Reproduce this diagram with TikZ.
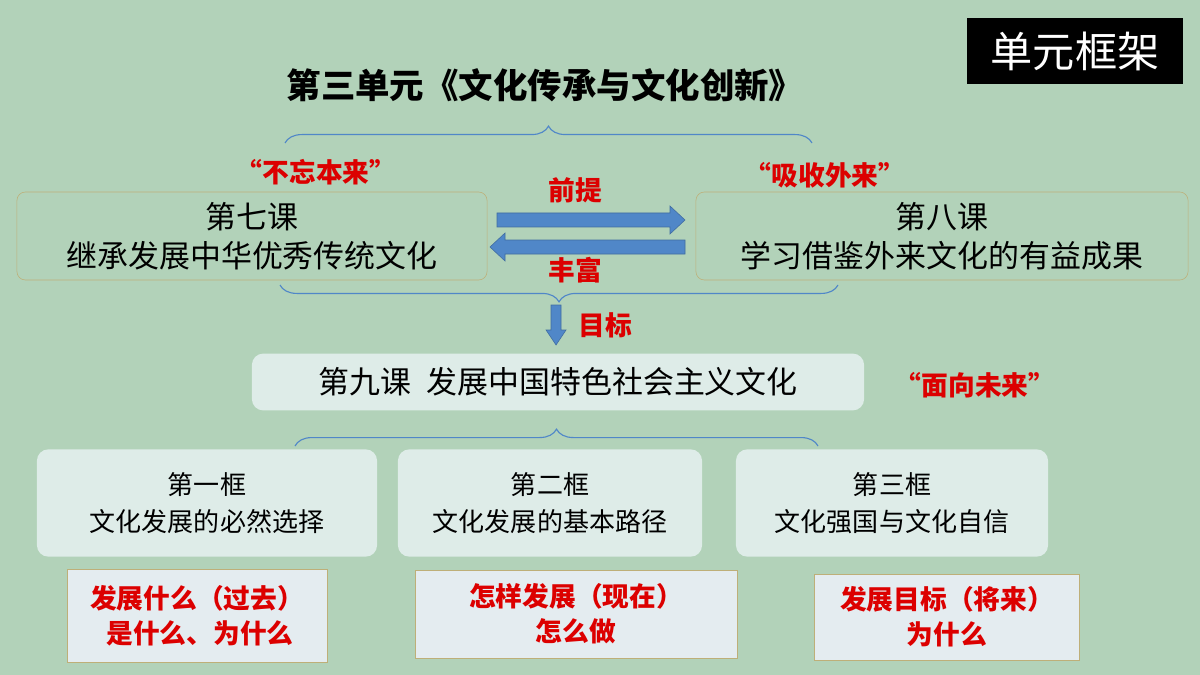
\documentclass[tikz,border=0pt]{standalone}
\usepackage{fontspec}
\setmainfont{Noto Sans CJK SC}
\usetikzlibrary{positioning,decorations.pathreplacing}
\definecolor{bggreen}{RGB}{178,210,185}
\definecolor{mybrace}{RGB}{80,135,200}
\definecolor{myred}{RGB}{220,0,0}
\definecolor{myline}{RGB}{190,175,120}
\definecolor{mylight}{RGB}{222,236,232}
\definecolor{myboxfill}{RGB}{228,236,240}
\begin{document}
\begin{tikzpicture}[x=0.025cm,y=-0.025cm,
        every node/.style={align=center,inner sep=0pt},
        lesson/.style={draw=myline,rounded corners=6pt,minimum height=2.2cm,font=\fontsize{22}{28}\selectfont},
        frame/.style={fill=mylight,rounded corners=8pt,font=\fontsize{18.5}{26}\selectfont},
        note/.style={draw=myline,fill=myboxfill,font=\bfseries\fontsize{19}{25}\selectfont,text=myred},
        redword/.style={text=myred,font=\bfseries\fontsize{19}{22}\selectfont},
        bracket/.style={draw=mybrace,thick,decorate,decoration={brace,amplitude=12pt}},
        blockarrow/.style={draw=mybrace!80!black,fill=mybrace}
      ]
      \fill[bggreen] (0,0) rectangle (1200,675);
      % headline
      \node[fill=black,text=white,minimum width=5.4cm,minimum height=1.65cm,
        font=\fontsize{30}{32}\selectfont] (unit) at (1075,51) {单元框架};
      \node[font=\bfseries\fontsize{24.5}{28}\selectfont] (title) at (545,85) {第三单元《文化传承与文化创新》};

      % upper braces
      \draw[bracket] (285,143) -- (812,143);
      \draw[bracket] (838,285) -- (280,285);

      % lessons 7 and 8
      \node[lesson,minimum width=11.75cm] (l7) at (252,236) {第七课\\继承发展中华优秀传统文化};
      \node[lesson,minimum width=12.3cm] (l8) at (942,236) {第八课\\学习借鉴外来文化的有益成果};
      \node[redword] (past) at (316,172) {“不忘本来”};
      \node[redword] (abroad) at (825,175) {“吸收外来”};

      % arrows between the lessons
      \draw[blockarrow] (497,213) -- (670,213) -- (670,206) -- (685,220)
        -- (670,234) -- (670,227) -- (497,227) -- cycle;
      \draw[blockarrow] (685,240) -- (505,240) -- (505,233) -- (490,247)
        -- (505,261) -- (505,254) -- (685,254) -- cycle;
      \node[redword] (premise) at (575,190) {前提};
      \node[redword] (enrich) at (575,270) {丰富};
      \draw[blockarrow] (551,305) -- (561,305) -- (561,330) -- (566,330) -- (556,345)
        -- (546,330) -- (551,330) -- cycle;
      \node[redword] (goal) at (605,325) {目标};

      % lesson 9
      \node[frame,minimum width=15.3cm,minimum height=1.42cm,font=\fontsize{22}{26}\selectfont]
        (l9) at (558,382) {第九课\enspace 发展中国特色社会主义文化};
      \node[redword] (future) at (975,385) {“面向未来”};
      \draw[bracket] (295,446) -- (818,446);

      % the three frames
      \node[frame,minimum width=8.5cm,minimum height=2.68cm] (k1) at (207,503) {第一框\\文化发展的必然选择};
      \node[frame,minimum width=7.6cm,minimum height=2.68cm] (k2) at (550,503) {第二框\\文化发展的基本路径};
      \node[frame,minimum width=7.8cm,minimum height=2.68cm] (k3) at (892,503) {第三框\\文化强国与文化自信};

      % the questions
      \node[note,minimum width=6.5cm,minimum height=2.33cm] (q1) at (197,616) {发展什么（过去）\\\ 是什么、为什么};
      \node[note,minimum width=8.05cm,minimum height=2.2cm] (q2) at (576,614) {怎样发展（现在）\\怎么做};
      \node[note,minimum width=6.62cm,minimum height=2.15cm] (q3) at (947,617) {发展目标（将来）\\为什么};
\end{tikzpicture}
\end{document}
